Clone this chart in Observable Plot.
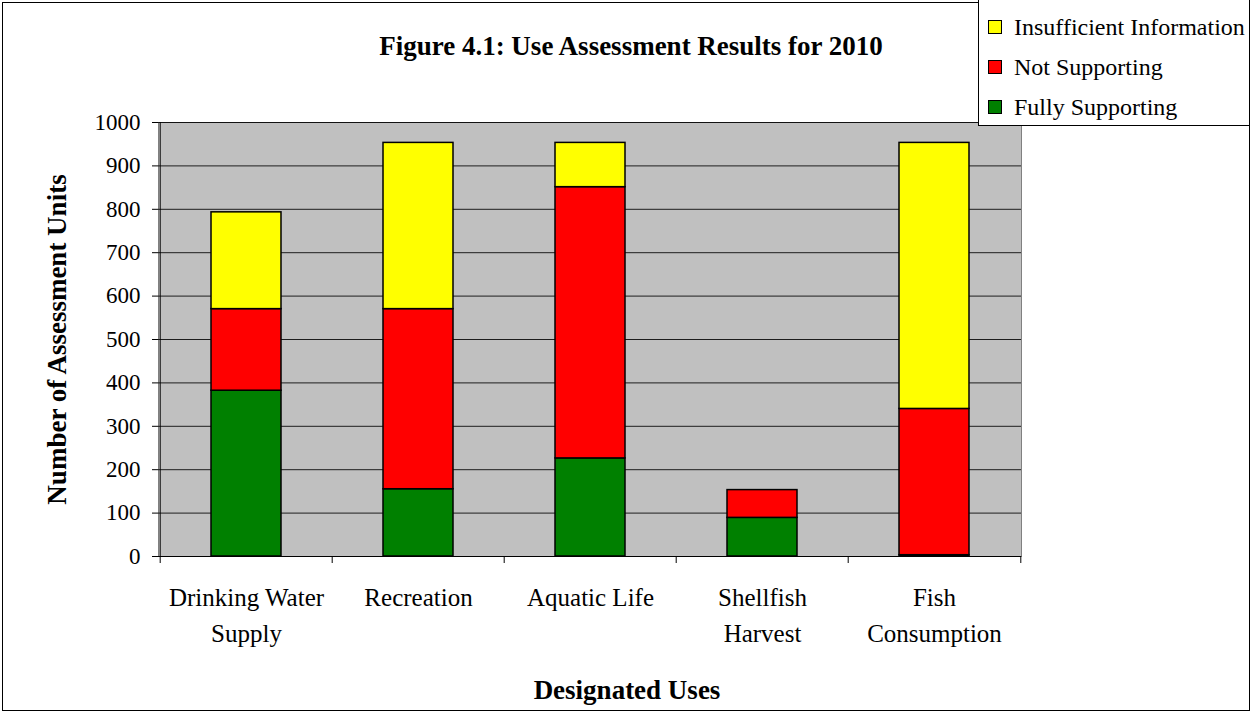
<!DOCTYPE html>
<html><head><meta charset="utf-8">
<script src="https://cdn.jsdelivr.net/npm/d3@7"></script>
<script src="https://cdn.jsdelivr.net/npm/@observablehq/plot@0.6"></script>
<style>
body{margin:0;background:#fff;}
#wrap{position:relative;width:1252px;height:713px;font-family:"Liberation Serif","Times New Roman",serif;overflow:hidden;}
#border{position:absolute;left:2px;top:2px;width:1246px;height:707px;border:1px solid #000;pointer-events:none;}
#title{position:absolute;left:631px;top:30px;transform:translateX(-50%);font-family:"Liberation Serif",serif;font-weight:bold;font-size:27px;line-height:32px;white-space:nowrap;}
#legend{position:absolute;left:978px;top:-1px;width:272px;height:127px;border:1px solid #000;background:#fff;box-sizing:border-box;}
.row{position:absolute;left:9px;display:flex;align-items:center;font-family:"Liberation Serif","Times New Roman",serif;font-size:24px;line-height:28px;white-space:nowrap;}
.sw{width:14px;height:14px;border:1px solid #000;margin-right:12px;box-sizing:border-box;}
#chart{position:absolute;left:0;top:0;}
</style></head>
<body><div id="wrap"><div id="chart"></div><div id="border"></div><div id="title"></div><div id="legend"></div></div>
<script>
const categories = ["Drinking Water Supply","Recreation","Aquatic Life","Shellfish Harvest","Fish Consumption"];
const categoryLabels = ["Drinking Water\nSupply","Recreation","Aquatic Life","Shellfish\nHarvest","Fish\nConsumption"];
const series = ["Fully Supporting","Not Supporting","Insufficient Information"];
const seriesColors = ["#008000","#ff0000","#ffff00"];
const fullySupporting = [382,155,226,89,3];
const notSupporting = [188,415,625,64,337];
const insufficientInfo = [223,383,102,0,613];
const yTicks = [0,100,200,300,400,500,600,700,800,900,1000];
const titleText = "Figure 4.1: Use Assessment Results for 2010";
const xTitle = "Designated Uses";
const yTitle = "Number of Assessment Units";

const values = [fullySupporting, notSupporting, insufficientInfo];
const table = [];
categories.forEach((c,i)=>series.forEach((s,j)=>table.push({use:c,status:s,value:values[j][i]})));

const W=1252,H=713, mL=158, mR=231, mT=122, mB=157;
const step=(W-mL-mR)/categories.length;
const FF="Liberation Serif, Times New Roman, serif";

const plot = Plot.plot({
  width:W, height:H, marginLeft:mL, marginRight:mR, marginTop:mT, marginBottom:mB,
  style:{fontFamily:FF, fontSize:"25px", color:"#000", background:"transparent"},
  x:{domain:categories, paddingInner:0.594, paddingOuter:0.297, axis:null},
  y:{domain:[0,1000], axis:null},
  color:{domain:series, range:seriesColors},
  marks:[
    Plot.frame({fill:"#c0c0c0", stroke:"#808080"}),
    Plot.ruleY(yTicks,{stroke:"#000", strokeOpacity:0.85}),
    Plot.barY(table,{x:"use", y:"value", fill:"status", stroke:"#000", strokeWidth:1.5}),
    Plot.ruleY([0],{stroke:"#000"}),
    Plot.ruleX([categories[0]],{dx:-step/2, stroke:"#000"}),
    Plot.axisY({ticks:yTicks, tickSize:6, tickPadding:12, fontSize:23, fontFamily:FF, tickFormat:d=>String(d), label:null, stroke:"#000"}),
    Plot.axisX({ticks:categories, tickSize:7, text:null, dx:-step/2, label:null}),
    Plot.axisX({ticks:[categories[categories.length-1]], tickSize:7, text:null, dx:step/2, label:null}),
    Plot.text(categories,{x:d=>d, text:(d,i)=>categoryLabels[i], frameAnchor:"bottom", dy:24, lineAnchor:"top", lineHeight:1.44, fontSize:25, fontFamily:FF}),
    Plot.text([xTitle],{frameAnchor:"bottom", dy:142, fontWeight:"bold", fontSize:27, fontFamily:FF, dx:37}),
    Plot.text([yTitle],{frameAnchor:"left", dx:-101, rotate:-90, textAnchor:"middle", fontWeight:"bold", fontSize:27, fontFamily:FF})
  ]
});
document.getElementById("chart").appendChild(plot);
document.getElementById("title").textContent = titleText;

const lg=document.getElementById("legend");
[...series].reverse().forEach((s,k)=>{
  const r=document.createElement("div"); r.className="row"; r.style.top=(13+k*40)+"px";
  const sw=document.createElement("div"); sw.className="sw"; sw.style.background=seriesColors[series.indexOf(s)];
  const t=document.createElement("span"); t.textContent=s;
  r.appendChild(sw); r.appendChild(t); lg.appendChild(r);
});
</script></body></html>
